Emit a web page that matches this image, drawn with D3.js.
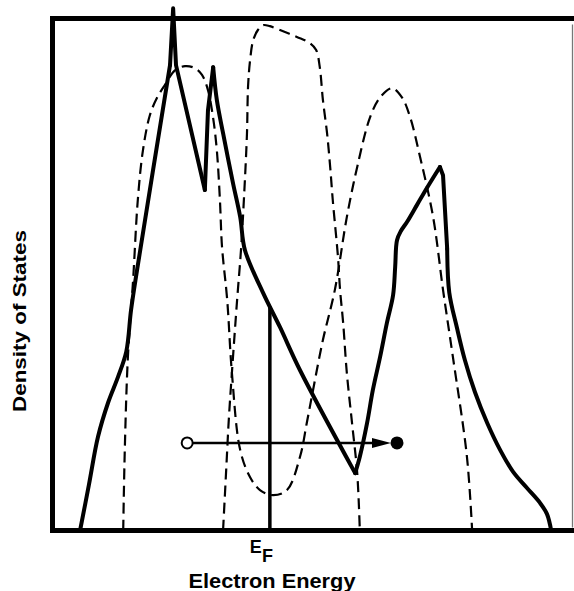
<!DOCTYPE html>
<html>
<head>
<meta charset="utf-8">
<script src="https://cdn.jsdelivr.net/npm/d3@7"></script>
<style>
  html, body { margin: 0; padding: 0; background: #fff; }
  svg { display: block; }
</style>
</head>
<body>
<svg id="chart" width="574" height="591"></svg>
<script>
// ---- Data (energy: 0-100 arbitrary units, density of states: 0-100 arbitrary units) ----
const solidEnergy = [5.3, 7.0, 8.75, 10.7, 12.6, 14.2, 15.1, 16.25, 22.6, 23.2, 23.75, 29.3, 29.9, 30.9, 31.6, 32.8, 34.7, 36.1, 37.0, 40.5, 43.75, 47.6, 58.2, 59.1, 60.5, 61.6, 63.0, 64.3, 65.5, 65.9, 66.25, 67.0, 68.2, 70.1, 72.0, 74.5, 75.1, 75.9, 76.3, 77.8, 79.3, 81.25, 83.6, 86.1, 88.55, 91.25, 93.75, 95.1, 95.9];
const solidDOS    = [0, 8.9, 18.3, 25.0, 30.0, 35.0, 43.0, 50.8, 90.9, 102.0, 90.9, 66.5, 82.1, 90.5, 84.1, 77.6, 67.9, 61.2, 54.8, 46.4, 39.7, 31.3, 11.2, 14.4, 21.0, 27.4, 33.9, 40.5, 46.0, 51.5, 56.7, 58.5, 60.3, 63.6, 66.9, 71.0, 69.4, 55.0, 46.5, 39.5, 33.3, 27.0, 21.0, 15.7, 11.5, 8.3, 5.4, 3.2, 0];

const bandAEnergy = [13.6, 13.9, 14.5, 15.5, 16.4, 17.4, 18.75, 20.1, 21.6, 23.6, 25.5, 27.4, 28.75, 29.9, 30.9, 31.6, 32.2, 32.6, 33.6, 34.5, 36.1, 38.0, 39.9, 42.4, 45.1, 47.6, 48.9, 50.1, 52.0, 54.3, 56.6, 58.6, 61.1, 63.0, 65.3, 67.2, 68.75, 70.7, 73.2, 75.1, 77.0, 79.7, 80.7];
const bandADOS    = [0, 15.7, 33.9, 48.9, 64.5, 74.3, 81.2, 84.5, 87.0, 89.9, 90.7, 90.3, 89.0, 86.0, 80.5, 74.3, 64.5, 55.4, 45.0, 30.8, 15.7, 10.4, 7.9, 6.9, 7.9, 14.4, 21.0, 27.4, 37.2, 47.0, 61.2, 71.0, 80.8, 84.6, 86.4, 84.6, 80.8, 72.9, 61.2, 47.0, 33.9, 14.4, 0];

const bandBEnergy = [32.8, 33.4, 33.9, 34.5, 35.5, 36.25, 36.8, 37.4, 37.6, 38.0, 38.6, 39.5, 40.5, 41.8, 43.75, 47.0, 49.5, 50.7, 51.4, 52.0, 52.8, 53.4, 53.9, 54.9, 55.3, 55.9, 56.6, 57.6, 58.6, 59.1];
const bandBDOS    = [0, 11.8, 21.6, 30.8, 45.0, 54.8, 64.5, 77.6, 86.6, 91.9, 95.8, 97.75, 98.7, 98.5, 97.75, 96.4, 95.2, 93.85, 90.5, 84.1, 77.6, 71.0, 64.5, 53.4, 47.0, 40.5, 30.8, 21.0, 11.2, 0];

const fermiEnergy = 41.8;
const transitionDOS = 17.1;
const transitionFrom = 25.9;
const transitionTo = 66.25;

const xLabel = "Electron Energy";
const yLabel = "Density of States";
const fermiLabel = "E";
const fermiSub = "F";

// ---- Layout ----
const svg = d3.select("#chart");
const x = d3.scaleLinear().domain([0, 100]).range([52.5, 572.5]);
const y = d3.scaleLinear().domain([0, 100]).range([530.5, 18.5]);

const zip = (xs, ys) => xs.map((v, i) => [v, ys[i]]);
const solid = zip(solidEnergy, solidDOS);
const bandA = zip(bandAEnergy, bandADOS);
const bandB = zip(bandBEnergy, bandBDOS);

// Frame
const x0 = x.range()[0], x1 = x.range()[1], yTop = y.range()[1], yBot = y.range()[0];
svg.append("line").attr("x1", x0 - 2.5).attr("x2", 574).attr("y1", yTop).attr("y2", yTop)
  .attr("stroke", "#000").attr("stroke-width", 5);
svg.append("line").attr("x1", x0 - 2.5).attr("x2", 574).attr("y1", yBot).attr("y2", yBot)
  .attr("stroke", "#000").attr("stroke-width", 5);
svg.append("line").attr("x1", x0).attr("x2", x0).attr("y1", yTop - 2.5).attr("y2", yBot + 2.5)
  .attr("stroke", "#000").attr("stroke-width", 5);
svg.append("line").attr("x1", x1).attr("x2", x1).attr("y1", yTop + 6).attr("y2", yBot - 3)
  .attr("stroke", "#777").attr("stroke-width", 1.3);

// Dashed bands
const smooth = d3.line().x(d => x(d[0])).y(d => y(d[1])).curve(d3.curveCatmullRom.alpha(0.5));
const lin = d3.line().x(d => x(d[0])).y(d => y(d[1])).curve(d3.curveLinear);
[bandA, bandB].forEach(b => {
  svg.append("path").attr("d", smooth(b)).attr("fill", "none")
    .attr("stroke", "#000").attr("stroke-width", 2.2)
    .attr("stroke-dasharray", "11,6");
});

// Solid curve: smooth pieces joined at its sharp peaks and troughs
const pieces = [[0, 8, smooth], [8, 11, lin], [11, 13, lin], [13, 22, smooth], [22, 35, smooth], [35, 37, lin], [37, 48, smooth]];
pieces.forEach(([a, b, gen]) => {
  svg.append("path").attr("d", gen(solid.slice(a, b + 1))).attr("fill", "none")
    .attr("stroke", "#000").attr("stroke-width", 4)
    .attr("stroke-linejoin", "round").attr("stroke-linecap", "round");
});

// Fermi level line: from baseline up to the solid curve
function interpAt(data, e) {
  for (let i = 0; i < data.length - 1; i++) {
    const a = data[i], b = data[i + 1];
    if (e >= a[0] && e <= b[0] && b[0] > a[0]) {
      return a[1] + (b[1] - a[1]) * (e - a[0]) / (b[0] - a[0]);
    }
  }
  return 0;
}
const fermiTop = interpAt(solid, fermiEnergy);
svg.append("line").attr("x1", x(fermiEnergy)).attr("x2", x(fermiEnergy))
  .attr("y1", y(0)).attr("y2", y(fermiTop))
  .attr("stroke", "#000").attr("stroke-width", 3.5);

// Transition arrow
const ay = y(transitionDOS);
const ax0 = x(transitionFrom), ax1 = x(transitionTo);
svg.append("line").attr("x1", ax0).attr("x2", ax1 - 20).attr("y1", ay).attr("y2", ay)
  .attr("stroke", "#000").attr("stroke-width", 2.5);
svg.append("path")
  .attr("d", `M${ax1 - 25},${ay - 5} L${ax1 - 6},${ay} L${ax1 - 25},${ay + 5} Z`)
  .attr("fill", "#000");
svg.append("circle").attr("cx", ax0).attr("cy", ay).attr("r", 5.5)
  .attr("fill", "#fff").attr("stroke", "#000").attr("stroke-width", 2);
svg.append("circle").attr("cx", ax1).attr("cy", ay).attr("r", 6.5).attr("fill", "#000");

// Labels
const font = "'Liberation Sans', Arial, Helvetica, sans-serif";
const ef = svg.append("text").attr("x", x(fermiEnergy) - 20).attr("y", 553)
  .attr("font-family", font).attr("font-weight", "bold").attr("font-size", 18);
ef.append("tspan").text(fermiLabel);
ef.append("tspan").attr("dy", 9).attr("font-size", 18).text(fermiSub);

svg.append("text").attr("x", 272).attr("y", 588).attr("text-anchor", "middle")
  .attr("font-family", font).attr("font-weight", "bold").attr("font-size", 20.5)
  .attr("textLength", 167).attr("lengthAdjust", "spacingAndGlyphs")
  .text(xLabel);

svg.append("text").attr("transform", "translate(25.5,321) rotate(-90)")
  .attr("text-anchor", "middle")
  .attr("font-family", font).attr("font-weight", "bold").attr("font-size", 18.5)
  .attr("textLength", 182).attr("lengthAdjust", "spacingAndGlyphs")
  .text(yLabel);
</script>
</body>
</html>
